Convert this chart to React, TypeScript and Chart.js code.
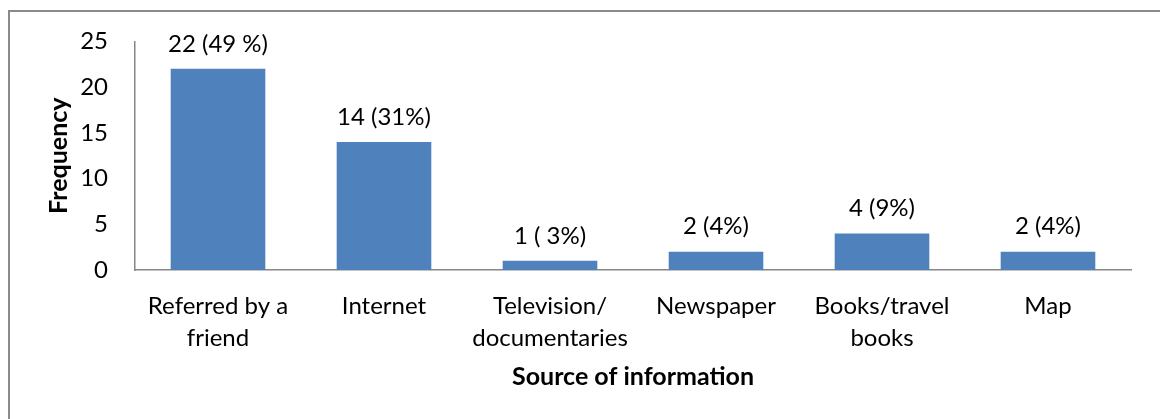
import React, { useEffect, useRef } from "react";
import { Chart, registerables } from "chart.js";

Chart.register(...registerables);

const categories: string[][] = [
  ["Referred by a", "friend"],
  ["Internet"],
  ["Television/", "documentaries"],
  ["Newspaper"],
  ["Books/travel", "books"],
  ["Map"],
];
const frequencies: number[] = [22, 14, 1, 2, 4, 2];
const valueLabels: string[] = ["22 (49 %)", "14 (31%)", "1 ( 3%)", "2 (4%)", "4 (9%)", "2 (4%)"];
const yTickMin = 0;
const yTickMax = 25;
const yTickStep = 5;

const FONT = "Lato, 'Open Sans', sans-serif";
const AXIS_GRAY = "#868686";
const BAR_BLUE = "#4F81BD";

const frame = {
  id: "frame",
  beforeDraw(chart: any) {
    const ctx = chart.ctx;
    ctx.save();
    ctx.fillStyle = "#ffffff";
    ctx.fillRect(0, 0, chart.width, chart.height);
    ctx.strokeStyle = "#8a8a8a";
    ctx.lineWidth = 2;
    ctx.strokeRect(9, 11, 1300, 600);
    ctx.restore();
  },
};

const barLabels = {
  id: "barLabels",
  afterDatasetsDraw(chart: any) {
    const ctx = chart.ctx;
    const meta = chart.getDatasetMeta(0);
    ctx.save();
    ctx.font = `24px ${FONT}`;
    ctx.fillStyle = "#000000";
    ctx.textAlign = "center";
    ctx.textBaseline = "middle";
    meta.data.forEach((bar: any, i: number) => {
      ctx.fillText(valueLabels[i], bar.x, bar.y - 25);
    });
    ctx.restore();
  },
};

export default function App() {
  const ref = useRef<HTMLCanvasElement>(null);
  useEffect(() => {
    if (!ref.current) return;
    const chart = new Chart(ref.current, {
      type: "bar",
      data: {
        labels: categories,
        datasets: [
          {
            data: frequencies,
            backgroundColor: BAR_BLUE,
            borderWidth: 0,
            categoryPercentage: 1,
            barPercentage: 0.57,
          },
        ],
      },
      options: {
        animation: false,
        responsive: false,
        devicePixelRatio: 1,
        layout: { padding: { left: 0, right: 29, top: 40, bottom: 0 } },
        plugins: {
          legend: { display: false },
          tooltip: { enabled: false },
        },
        scales: {
          x: {
            grid: { display: false, drawTicks: false },
            border: { display: true, color: AXIS_GRAY, width: 1.5 },
            ticks: {
              color: "#000000",
              font: { family: FONT, size: 24, lineHeight: 1.33 },
              padding: 20,
              maxRotation: 0,
              autoSkip: false,
            },
            title: {
              display: true,
              text: "Source of information",
              color: "#000000",
              font: { family: FONT, size: 25, weight: "bold", lineHeight: 1.2 },
              padding: { top: 0, bottom: 27 },
            },
            afterFit: (scale: any) => {
              scale.height = 149;
            },
          },
          y: {
            min: yTickMin,
            max: yTickMax,
            grid: { display: false, drawTicks: false },
            border: { display: true, color: AXIS_GRAY, width: 1.5 },
            ticks: {
              stepSize: yTickStep,
              color: "#000000",
              font: { family: FONT, size: 24 },
              padding: 27,
            },
            title: {
              display: true,
              text: "Frequency",
              color: "#000000",
              font: { family: FONT, size: 25, weight: "bold", lineHeight: 1.2 },
              padding: { top: 44, bottom: 0 },
            },
            afterFit: (scale: any) => {
              scale.width = 135;
            },
          },
        },
      },
      plugins: [frame, barLabels],
    });
    return () => chart.destroy();
  }, []);
  return (
    <div style={{ position: "absolute", left: 0, top: 0, width: 1160, height: 419 }}>
      <canvas ref={ref} width={1160} height={419} />
    </div>
  );
}
